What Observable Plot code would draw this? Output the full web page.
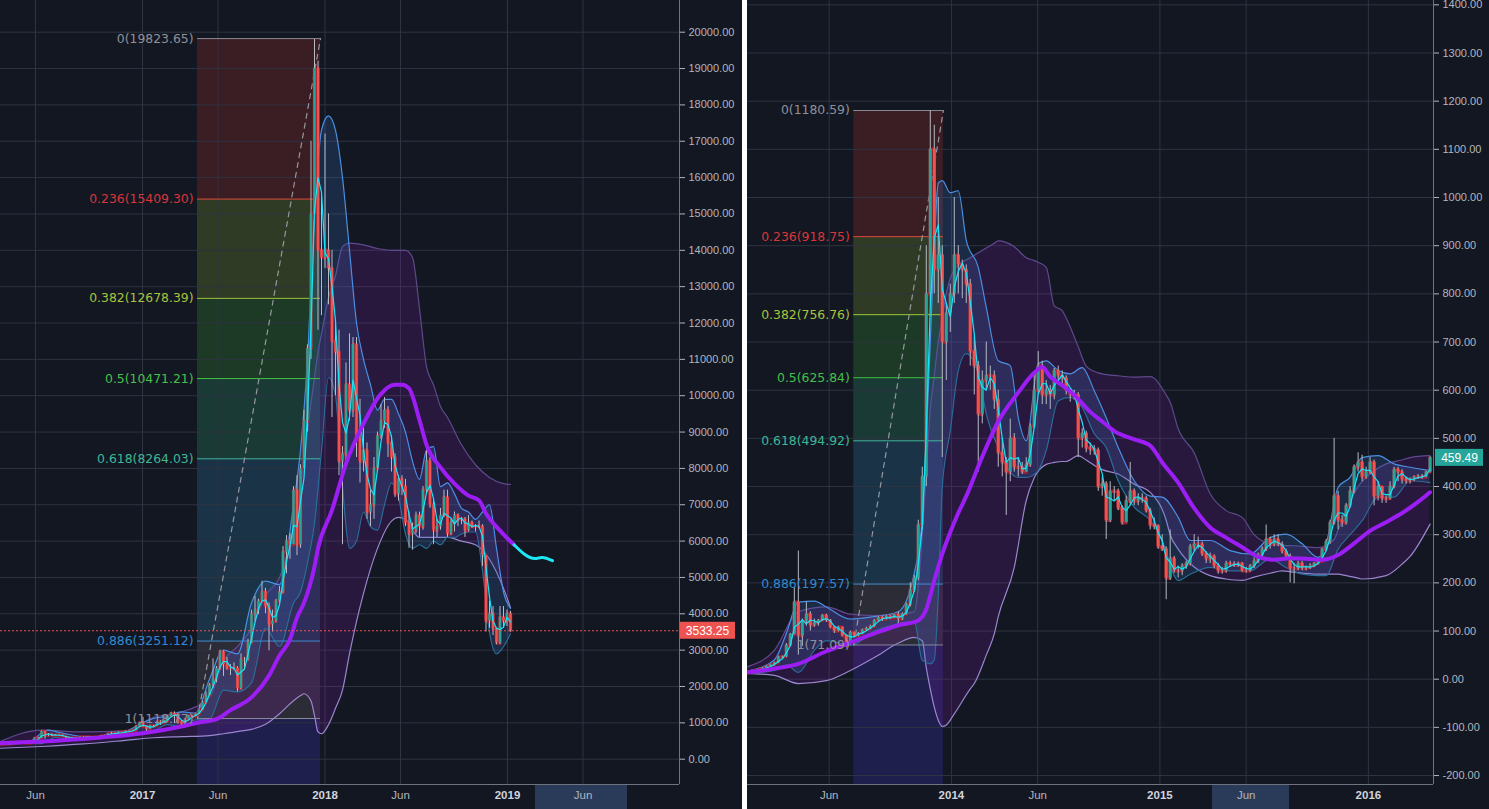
<!DOCTYPE html>
<html><head><meta charset="utf-8">
<script src="https://cdn.jsdelivr.net/npm/d3@7"></script>
<script src="https://cdn.jsdelivr.net/npm/@observablehq/plot@0.6"></script>
<style>
html,body{margin:0;padding:0;background:#ffffff;}
#wrap{display:flex;width:1489px;height:809px;gap:5px;}
#wrap > div{width:742px;height:809px;overflow:hidden;background:#131722;}
</style></head><body><div id="wrap"><div id="left"></div><div id="right"></div></div>
<script>
// ---------- shared ----------
const fibRatios = ["0", "0.236", "0.382", "0.5", "0.618", "0.886", "1"];
const fibLineColors = ["#8a8d96", "#e0453a", "#a3c93a", "#3ec441", "#3fb89c", "#3d8fd6", "#8a8d96"];
const fibTextColors = ["#8e9199", "#d9363a", "#a6c43c", "#45c04a", "#3db896", "#2e8bd0", "#8e9199"];
const fibFillColors = ["#3b1d24", "#303b26", "#1c3a26", "#1a3a35", "#1a3346", "#2b2c35", "#1e1f4c"];

// ---------- LEFT panel (2016-2019, weekly candles from 2016-03-21) ----------
const leftStart = "2016-03-21";
const leftOpen0 = 412;
const leftClose = [416,420,422,430,450,460,458,455,443,470,
575,580,760,660,680,650,665,660,625,590,
585,580,575,608,610,610,600,610,615,640,
655,700,710,705,740,735,765,770,790,900,
1000,900,825,920,920,1020,1000,1050,1180,1260,
1230,1030,960,1090,1190,1180,1240,1350,1560,1750,
2050,2200,2500,2950,2600,2500,2500,2500,1950,2750,
2750,3200,4000,4100,4350,4600,4200,3700,3800,4350,
4600,5700,6000,5900,7400,5900,8000,9300,11300,15000,
19000,14000,13800,14000,13500,11500,11200,8200,8400,10300,
9600,11400,8800,8200,8500,6800,7000,8000,8900,9300,
9600,8700,8300,7300,7700,7500,6500,6200,6300,6700,
6400,7400,8200,7000,6300,6400,6700,7200,6200,6500,
6700,6600,6600,6300,6500,6400,6400,6400,5600,3800,
4000,3600,3200,3900,3800,4000,3533.25];
const leftHigh = [425,425,428,432,462,468,465,462,458,475,
585,600,780,770,705,700,680,680,665,625,
600,590,585,612,625,615,612,615,620,645,
660,705,740,720,755,745,775,780,795,920,
1000,1150,905,930,925,1025,1060,1060,1200,1290,
1300,1250,1050,1100,1200,1210,1250,1360,1600,1850,
2080,2760,2550,3000,2980,2800,2600,2650,2550,2900,
2800,3300,4100,4480,4400,4900,4700,4300,4100,4400,
4750,5850,6150,6200,7500,7800,8100,9600,11400,17000,
19800,19200,15500,17200,15000,14000,12000,11800,8600,10900,
11700,11600,11600,9900,9200,8700,7400,8300,9000,9750,
9950,9700,8900,8400,7800,7800,7700,6800,6500,6800,
6800,7500,8500,8300,7150,6600,6900,7400,7400,6600,
6800,6750,6650,6650,6700,6550,6450,6550,6450,5600,
4350,4200,3600,4200,4200,4100,4070];
const leftLow = [408,412,415,418,428,445,445,448,438,440,
468,565,575,550,620,630,645,650,620,480,
565,565,570,570,600,602,595,598,606,612,
630,650,680,690,700,720,725,750,765,785,
890,880,750,820,880,915,930,990,1050,1170,
980,960,900,940,1080,1150,1170,1230,1340,1550,
1740,1950,2100,2450,2280,2450,2300,2450,1850,1900,
2450,2700,3180,3800,3980,4350,4000,2980,3500,3750,
4300,4550,5100,5500,5900,5600,5800,8000,9000,11000,
15000,11800,12200,13500,12500,9400,10000,7800,5900,8100,
9300,9400,8300,7600,7900,6600,6400,6600,7900,8800,
9100,8300,7900,7200,7100,7250,6400,5800,5750,6200,
6100,6300,7300,6900,5900,6100,6300,6650,6100,6150,
6250,6400,6450,6100,6250,6350,6250,6350,5300,3500,
3600,3400,3150,3150,3600,3650,3500];
// thick purple moving average (week index -> value)
const leftMaIdx = [0,10,29,41,52,57,62,66,72,77,80,83,85,87,90,91,95,99,104,109,113,115,117,120,122,126,130,134,137,139,143,147];
const leftMaVal = [440,480,600,715,900,1010,1100,1350,1700,2300,2850,3300,3900,4300,5300,5800,6850,8130,9230,10050,10300,10300,10200,9330,8650,8030,7580,7250,7120,6760,6290,5900];
// cyan projection after the last bar
const leftProjIdx = [147,153,155,158];
const leftProjVal = [5900,5520,5550,5460];
// wide purple band
const leftPIdx = [0,12,24,36,44,52,60,64,68,72,76,80,84,86,87,89,90,91,92,94,96,98,100,104,108,112,114,116,118,120,122,124,126,128,132,136,140,144,146];
const leftPUp = [480,800,750,780,1150,1300,1700,2700,3100,3600,4500,5000,6300,7500,8200,9800,10500,11200,11700,12700,13300,14100,14200,14150,14050,14000,14000,14000,13800,12400,10800,10300,9700,9400,8650,8100,7750,7580,7560];
const leftPLo = [300,350,420,520,590,620,650,700,760,820,960,1250,1610,1750,1800,1600,1200,750,700,950,1400,1900,2900,4560,5800,6550,6650,6600,6300,6100,6100,6100,6100,6100,6000,5900,5500,4700,4170];
// blue band
const leftBIdx = [0,4,8,10,12,14,16,20,24,28,32,36,40,44,48,52,56,60,64,68,72,76,80,84,86,88,90,92,94,96,98,100,102,104,106,108,110,112,114,116,118,120,122,124,126,128,130,132,134,136,138,140,142,144,146];
const leftBUp = [430,455,470,560,720,800,760,680,620,625,730,770,960,1120,1180,1300,1270,2200,3000,2900,4300,4900,4800,7000,8500,11000,15000,17300,17700,17300,16000,14000,12000,11000,10300,9600,9900,9900,9500,9000,8200,7700,8500,8600,7500,7600,7300,6900,6800,6600,6800,7000,5800,4600,4150];
const leftBLo = [400,415,440,430,430,520,600,540,565,595,620,700,720,780,950,900,1080,1100,1900,1850,2100,3600,3100,4300,4600,5400,6500,8500,10500,10000,7500,5800,6000,6800,6400,6300,7000,7600,7200,6200,5800,5900,5800,6000,5900,6100,6100,6200,6250,6250,5200,3500,2900,3100,3450];
const leftFibVals = [19823.65, 15409.30, 12678.39, 10471.21, 8264.03, 3251.12, 1118.77];
const leftFibDates = ["2017-04-21", "2017-12-23"];
const leftXDomain = ["2016-03-23", "2019-12-11"];
const leftYDomain = [-696, 20872];
const leftXTicks = ["2016-06-01","2017-01-01","2017-06-01","2018-01-01","2018-06-01","2019-01-01","2019-06-01"];
const leftYTicks = [0,1000,2000,3000,4000,5000,6000,7000,8000,9000,10000,11000,12000,13000,14000,15000,16000,17000,18000,19000,20000];
const leftHighlight = ["2019-02-26", "2019-08-29"];
const leftLast = 3533.25;

// ---------- RIGHT panel (2013-2016, weekly candles from 2013-01-07) ----------
const rightStart = "2013-01-07";
const rightOpen0 = 13.5;
const rightClose = [14,15.5,17.5,20,22.5,27,30,34,46,47,
70,93,160,90,120,135,112,117,122,132,
122,108,100,108,90,77,97,90,95,102,
105,110,122,128,125,130,127,134,125,135,
155,185,210,320,420,800,1100,850,880,700,
760,800,880,860,850,820,680,650,550,620,
630,630,580,470,450,430,500,440,440,430,
445,525,600,650,590,600,590,640,630,625,
600,590,590,500,510,480,478,475,400,405,
330,390,390,355,325,370,390,370,375,375,
350,320,318,275,270,210,250,225,225,235,
240,275,280,280,260,250,255,235,225,225,
240,238,237,240,225,225,235,245,258,270,
290,280,290,280,265,255,230,230,240,230,
232,235,240,245,270,285,325,380,330,325,
360,390,440,450,420,430,450,380,400,375,
375,400,435,430,415,412,415,420,420,420,
430,459.49];
const rightHigh = [14.5,16,18,21,24,28,31,35,48,48,
74,95,190,266,125,160,140,125,124,134,
135,124,110,110,108,90,100,98,97,104,
108,112,124,130,130,132,132,135,140,138,
158,200,215,330,440,900,1180,1150,1000,900,
780,820,1000,900,870,860,830,710,660,640,
700,650,640,600,500,460,540,510,460,450,
460,530,630,680,660,620,610,645,650,640,
630,600,600,595,520,515,490,485,480,420,
410,410,400,395,360,380,450,395,385,385,
380,355,335,320,300,275,310,255,235,240,
245,280,300,295,285,265,262,258,240,232,
245,245,244,243,242,232,238,252,262,275,
320,295,300,300,285,270,260,240,245,245,
235,240,242,250,272,290,330,500,390,340,
365,400,445,470,465,440,460,455,410,400,
380,410,440,440,435,420,418,422,425,425,
432,462];
const rightLow = [13.3,13.8,15.3,17,19.5,22,26,28,33,43,
45,68,92,50,68,110,100,108,110,120,
118,105,95,98,88,65,70,88,88,93,
100,103,108,120,120,123,125,126,110,122,
133,150,180,205,310,400,780,800,780,460,
620,720,780,800,790,780,650,590,430,530,
600,600,560,440,420,340,410,430,420,425,
430,440,520,590,570,570,560,580,615,610,
590,575,580,460,480,470,465,465,390,380,
290,325,370,350,320,325,360,360,360,365,
345,310,310,270,265,165,205,220,210,215,
228,235,265,270,255,240,240,230,218,218,
220,232,232,232,222,220,222,230,240,255,
265,270,275,275,260,250,200,198,225,225,
225,228,232,238,245,265,280,320,310,315,
320,355,385,430,410,415,425,360,370,365,
365,372,395,410,405,405,405,410,415,415,
418,428];
const rightMaIdx = [0,7,13,20,26,32,38,43,45,47,49,51,53,55,59,63,68,72,74,76,79,82,86,89,92,97,101,104,108,112,116,120,124,128,132,136,140,144,148,152,156,160,164,168,171];
const rightMaVal = [14,22,32,58,76,95,112,122,145,205,260,305,345,380,462,535,595,636,648,628,610,590,555,535,515,498,485,450,408,355,315,294,274,254,248,251,250,248,258,282,308,326,345,368,388];
const rightPIdx = [0,7,13,20,26,32,38,42,44,45,46,47,48,49,50,52,56,57,60,62,63,67,70,72,75,77,79,80,83,85,88,89,93,97,101,105,106,108,112,116,120,124,127,131,134,137,143,147,148,150,153,154,160,164,166,171];
const rightPUp = [25,60,140,150,135,132,135,140,300,430,560,630,700,750,800,850,875,880,895,905,910,898,875,869,855,775,765,750,690,650,636,634,630,627,628,590,575,520,470,385,350,336,300,281,278,277,273,290,310,350,400,410,447,455,460,464];
const rightPLo = [12,8,-9,-3,18,45,75,87,80,24,-20,-58,-85,-98,-95,-72,-20,-9,50,94,130,232,371,418,446,450,452,452,464,455,439,435,426,405,388,330,300,270,233,215,208,205,212,220,225,222,218,218,218,215,210,208,215,239,255,322];
const rightBIdx = [0,7,10,13,17,20,26,32,38,42,44,46,47,48,49,51,53,55,58,60,63,66,68,70,73,75,78,81,84,87,90,93,97,101,104,108,111,116,121,126,131,135,139,143,145,148,151,154,158,162,166,171];
const rightBUp = [16,40,95,160,162,150,125,130,140,220,336,700,900,1030,1035,1010,1014,911,855,772,661,651,543,495,655,661,641,634,647,599,543,481,412,380,378,336,288,288,267,260,294,301,281,253,281,398,419,460,464,447,440,433];
const rightBLo = [12,18,30,14,60,80,70,100,115,120,39,32,40,177,400,516,641,676,634,551,481,430,419,419,433,475,578,585,564,510,481,412,357,330,288,205,218,232,225,225,250,232,218,215,215,270,300,329,378,378,412,408];
const rightFibVals = [1180.59, 918.75, 756.76, 625.84, 494.92, 197.57, 71.09];
const rightFibDates = ["2013-07-14", "2013-12-18"];
const rightXDomain = ["2013-01-09", "2016-04-24"];
const rightYDomain = [-218.6, 1409];
const rightXTicks = ["2013-06-01","2014-01-01","2014-06-01","2015-01-01","2015-06-01","2016-01-01"];
const rightYTicks = [-200,-100,0,100,200,300,400,500,600,700,800,900,1000,1100,1200,1300,1400];
const rightHighlight = ["2015-04-03", "2015-08-16"];
const rightLast = 459.49;

// ---------- builder ----------
const gridColor = "#2f3342";
const axisColor = "#6f7380";

function panel(c) {
  const start = new Date(c.start);
  const wk = i => d3.utcDay.offset(start, 7 * i);
  const candles = c.close.map((v, i) => ({date: wk(i), open: i ? c.close[i - 1] : c.open0, close: v, high: c.high[i], low: c.low[i]}));
  const line = (idx, vals) => idx.map((k, j) => ({date: wk(k), v: vals[j]}));
  const band = (idx, up, lo) => idx.map((k, j) => ({date: wk(k), up: up[j], lo: lo[j]}));
  const ma = line(c.maIdx, c.maVal);
  const proj = c.projIdx ? line(c.projIdx, c.projVal) : [];
  const purple = band(c.pIdx, c.pUp, c.pLo);
  const blue = band(c.bIdx, c.bUp, c.bLo);
  const xd = c.xDomain.map(d => new Date(d));
  const fs = new Date(c.fibDates[0]), fe = new Date(c.fibDates[1]);
  const n = c.fibVals.length;
  const fibRows = c.fibVals.map((v, j) => ({v, next: j < n - 1 ? c.fibVals[j + 1] : c.yDomain[0], ratio: fibRatios[j], lcol: fibLineColors[j], tcol: fibTextColors[j], fcol: fibFillColors[j]}));
  const xt = c.xTicks.map(d => new Date(d));
  const yearTicks = xt.filter(d => d.getUTCMonth() === 0);
  const monthTicks = xt.filter(d => d.getUTCMonth() !== 0);
  const yMin = c.yDomain[0];
  const marks = [
    Plot.rect(fibRows, {x1: () => fs, x2: () => fe, y1: "v", y2: "next", fill: "fcol"}),
    Plot.ruleY(c.yTicks, {stroke: gridColor, strokeWidth: 1}),
    Plot.ruleX(xt, {stroke: gridColor, strokeWidth: 1}),
    Plot.areaY(purple, {x: "date", y1: "lo", y2: "up", fill: "#7b1fa2", fillOpacity: 0.22, curve: "monotone-x"}),
    Plot.line(purple, {x: "date", y: "up", stroke: "#5d4a8c", strokeWidth: 1.2, curve: "monotone-x"}),
    Plot.line(purple, {x: "date", y: "lo", stroke: "#9c86d2", strokeWidth: 1.2, curve: "monotone-x"}),
    Plot.areaY(blue, {x: "date", y1: "lo", y2: "up", fill: "#3b78c4", fillOpacity: 0.22, curve: "monotone-x"}),
    Plot.line(blue, {x: "date", y: "up", stroke: "#4a8fe2", strokeWidth: 1.2, curve: "monotone-x"}),
    Plot.line(blue, {x: "date", y: "lo", stroke: "#2b6d99", strokeWidth: 1.2, curve: "monotone-x"}),
    Plot.ruleY(fibRows, {y: "v", x1: () => fs, x2: () => fe, stroke: "lcol", strokeWidth: 1}),
    Plot.line([{d: fs, v: c.fibVals[n - 1]}, {d: fe, v: c.fibVals[0]}], {x: "d", y: "v", stroke: "#9598a1", strokeWidth: 1.2, strokeDasharray: "5,5"}),
    Plot.line(candles, {x: "date", y: "close", curve: "step-after", stroke: "#b71c2a", strokeWidth: 3.5, strokeOpacity: 0.85}),
    Plot.ruleX(candles, {x: "date", y1: "low", y2: "high", stroke: "#b7bac2", strokeWidth: 1}),
    Plot.ruleX(candles, {x: "date", y1: "open", y2: "close", stroke: d => d.close >= d.open ? "#26a69a" : "#ef5350", strokeWidth: c.bodyW}),
    Plot.lineY(candles, Plot.windowY({k: 3, anchor: "end"}, {x: "date", y: "close", stroke: "#18e4f8", strokeWidth: 1.2})),
    Plot.line(ma, {x: "date", y: "v", stroke: "#9d1ef5", strokeWidth: 4, curve: "monotone-x"}),
    Plot.line(proj, {x: "date", y: "v", stroke: "#1de9f6", strokeWidth: 3, curve: "monotone-x"}),
    Plot.text(fibRows, {x: () => fs, y: "v", text: d => `${d.ratio}(${d.v.toFixed(2)})`, fill: "tcol", textAnchor: "end", dx: -4, fontFamily: "DejaVu Sans", fontSize: 12.4}),
    c.lastLine ? Plot.ruleY([c.last], {stroke: c.lastColor, strokeDasharray: "2,2", strokeWidth: 1}) : null,
    Plot.rect([c.last], {x1: () => xd[1], x2: () => xd[1], y1: d => d, y2: d => d, insetLeft: c.boxInL, insetRight: -c.boxInR, insetTop: -8.5, insetBottom: -8.5, fill: c.lastColor}),
    Plot.text([c.last], {x: () => xd[1], y: d => d, text: d => d.toFixed(2), dx: c.boxDx, fill: "#ffffff", fontSize: 12, fontFamily: "Liberation Sans"}),
    Plot.rect([c.hl], {x1: d => new Date(d[0]), x2: d => new Date(d[1]), y1: () => yMin, y2: () => yMin, insetBottom: -25, fill: "#2a3b5a"}),
    Plot.ruleX([xd[1]], {stroke: axisColor, strokeWidth: 1}),
    Plot.ruleY([yMin], {stroke: axisColor, strokeWidth: 1}),
    Plot.text(yearTicks, {x: d => d, frameAnchor: "bottom", dy: 14, text: d => String(d.getUTCFullYear()), fill: "#d1d4dc", fontWeight: "bold", fontSize: 11.5}),
    Plot.text(monthTicks, {x: d => d, frameAnchor: "bottom", dy: 14, text: d => d3.utcFormat("%b")(d), fill: "#b2b5be", fontSize: 11.5})
  ].filter(Boolean);
  return Plot.plot({
    width: 742, height: 809,
    marginLeft: 0, marginRight: c.mr, marginTop: 0, marginBottom: 25,
    x: {type: "utc", domain: xd, axis: null},
    y: {domain: c.yDomain, axis: "right", ticks: c.yTicks, tickFormat: d => d.toFixed(2), tickSize: 5, tickPadding: 4, label: null},
    style: {background: "#131722", color: "#b2b5be", fontFamily: "Liberation Sans, Arial, sans-serif", fontSize: "11px"},
    marks
  });
}

document.getElementById("left").appendChild(panel({
  start: leftStart, open0: leftOpen0, close: leftClose, high: leftHigh, low: leftLow,
  maIdx: leftMaIdx, maVal: leftMaVal, projIdx: leftProjIdx, projVal: leftProjVal,
  pIdx: leftPIdx, pUp: leftPUp, pLo: leftPLo, bIdx: leftBIdx, bUp: leftBUp, bLo: leftBLo,
  fibVals: leftFibVals, fibDates: leftFibDates, xDomain: leftXDomain, yDomain: leftYDomain,
  xTicks: leftXTicks, yTicks: leftYTicks, hl: leftHighlight, last: leftLast, lastColor: "#ef5350",
  lastLine: true, boxInL: 0, boxInR: 56, boxDx: 28, mr: 63, bodyW: 2.5
}));
document.getElementById("right").appendChild(panel({
  start: rightStart, open0: rightOpen0, close: rightClose, high: rightHigh, low: rightLow,
  maIdx: rightMaIdx, maVal: rightMaVal, projIdx: null, projVal: null,
  pIdx: rightPIdx, pUp: rightPUp, pLo: rightPLo, bIdx: rightBIdx, bUp: rightBUp, bLo: rightBLo,
  fibVals: rightFibVals, fibDates: rightFibDates, xDomain: rightXDomain, yDomain: rightYDomain,
  xTicks: rightXTicks, yTicks: rightYTicks, hl: rightHighlight, last: rightLast, lastColor: "#26a69a",
  lastLine: false, boxInL: 2, boxInR: 50, boxDx: 26, mr: 56, bodyW: 3
}));
</script></body></html>
